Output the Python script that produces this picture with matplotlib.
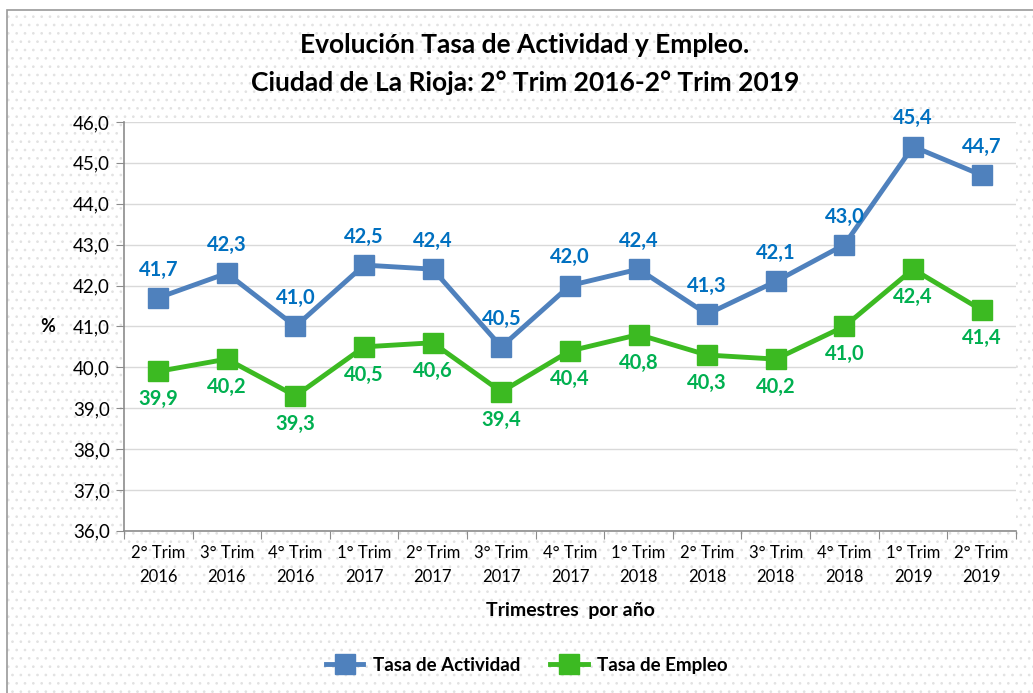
import matplotlib.pyplot as plt
from matplotlib.patches import Rectangle
from matplotlib.ticker import FixedLocator, NullFormatter, FixedFormatter

plt.rcParams['font.family'] = ['Lato', 'DejaVu Sans']
plt.rcParams['hatch.linewidth'] = 0.7

trimestres = ['2° Trim\n2016', '3° Trim\n2016', '4° Trim\n2016', '1° Trim\n2017', '2° Trim\n2017',
              '3° Trim\n2017', '4° Trim\n2017', '1° Trim\n2018', '2° Trim\n2018', '3° Trim\n2018',
              '4° Trim\n2018', '1° Trim\n2019', '2° Trim\n2019']
actividad = [41.7, 42.3, 41.0, 42.5, 42.4, 40.5, 42.0, 42.4, 41.3, 42.1, 43.0, 45.4, 44.7]
empleo = [39.9, 40.2, 39.3, 40.5, 40.6, 39.4, 40.4, 40.8, 40.3, 40.2, 41.0, 42.4, 41.4]

fig = plt.figure(figsize=(10.33, 6.93), dpi=100)
# fondo punteado estilo Excel
fig.patches.append(Rectangle((0.007, -0.01), 1.0, 0.995, transform=fig.transFigure, facecolor='white',
                             edgecolor='#e2e2e2', hatch='..', linewidth=0, zorder=-6))
fig.patches.append(Rectangle((0.007, -0.01), 1.0, 0.995, transform=fig.transFigure, facecolor='none',
                             edgecolor='#9a9a9a', linewidth=1.2, zorder=-5))

ax = fig.add_axes([0.12, 0.234, 0.8635, 0.59])
ax.set_zorder(2)
ax.set_facecolor('white')
x = list(range(len(trimestres)))

ax.plot(x, actividad, color='#4f81bd', lw=3.5, marker='s', ms=15, label='Tasa de Actividad', zorder=3)
ax.plot(x, empleo, color='#3cba22', lw=3.5, marker='s', ms=15, label='Tasa de Empleo', zorder=3)

for xi, v in zip(x, actividad):
    ax.annotate(f'{v:.1f}'.replace('.', ','), (xi, v), xytext=(0, 13), textcoords='offset points',
                ha='center', va='bottom', color='#0070c0', fontsize=14.5, fontweight='bold')
for xi, v in zip(x, empleo):
    ax.annotate(f'{v:.1f}'.replace('.', ','), (xi, v), xytext=(0, -13), textcoords='offset points',
                ha='center', va='top', color='#00b050', fontsize=14.5, fontweight='bold')

ax.set_xlim(-0.5, len(trimestres) - 0.5)
ax.set_ylim(36, 46)
yt = [36 + i for i in range(11)]
ax.set_yticks(yt)
ax.set_yticklabels([f'{t:.1f}'.replace('.', ',') for t in yt], fontsize=13.5)
ax.xaxis.set_major_locator(FixedLocator([i - 0.5 for i in range(len(trimestres) + 1)]))
ax.xaxis.set_major_formatter(NullFormatter())
ax.xaxis.set_minor_locator(FixedLocator(x))
ax.xaxis.set_minor_formatter(FixedFormatter(trimestres))
ax.tick_params(axis='x', which='minor', length=0, labelsize=12, pad=10)
ax.tick_params(axis='x', which='major', length=6, color='#8c8c8c')
ax.tick_params(axis='y', length=6, color='#8c8c8c', pad=4)
for lbl in ax.get_xticklabels(minor=True):
    lbl.set_linespacing(1.65)

ax.grid(axis='y', color='#d9d9d9', lw=1)
ax.set_axisbelow(True)
for s in ['top', 'right']:
    ax.spines[s].set_visible(False)
for s in ['left', 'bottom']:
    ax.spines[s].set_color('#8c8c8c')
    ax.spines[s].set_linewidth(1.2)

ax.set_xlabel('Trimestres  por año', fontsize=14, fontweight='bold', labelpad=12)
ax.set_ylabel('%', fontsize=13, fontweight='bold', rotation=0, va='center', ha='center')
ax.yaxis.set_label_coords(-0.086, 0.5)

fig.text(0.508, 0.935, 'Evolución Tasa de Actividad y Empleo.', ha='center', va='center',
         fontsize=19, fontweight='bold')
fig.text(0.508, 0.88, 'Ciudad de La Rioja: 2° Trim 2016-2° Trim 2019', ha='center', va='center',
         fontsize=19, fontweight='bold')

leg = ax.legend(loc='center', bbox_to_anchor=(0.51, 0.04), bbox_transform=fig.transFigure, ncol=2,
                frameon=False, prop={'weight': 'bold', 'size': 13.5}, handlelength=2.0,
                handletextpad=0.5, columnspacing=1.6)

fig.savefig('out.png', dpi=100)
